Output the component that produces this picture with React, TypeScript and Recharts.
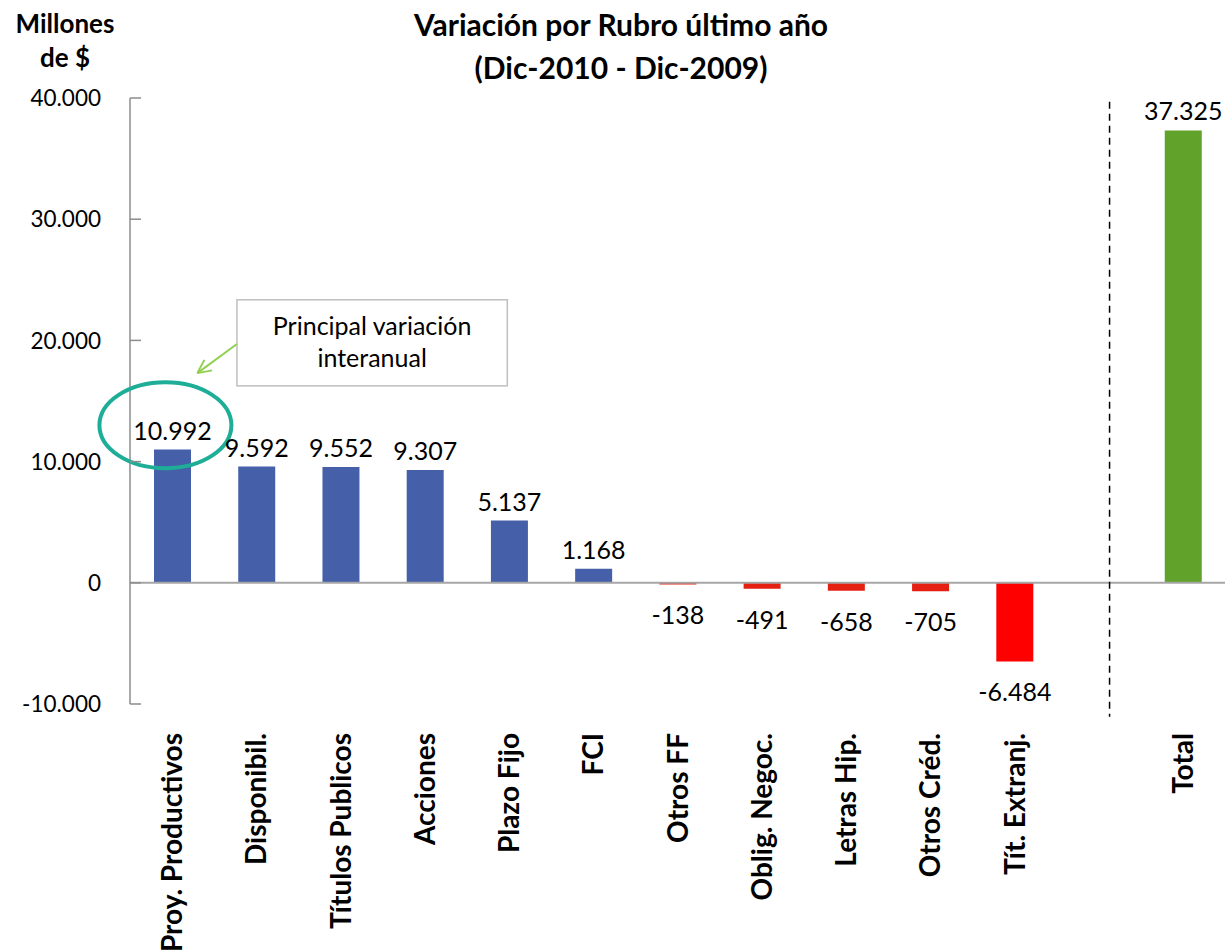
import React from "react";
import { BarChart, Bar, XAxis, YAxis, Cell, LabelList, ReferenceLine, ReferenceArea, ReferenceDot } from "recharts";

// rubros, in the order of the original chart (the empty one is the gap before Total)
const categories = [
  "Proy. Productivos",
  "Disponibil.",
  "Títulos Publicos",
  "Acciones",
  "Plazo Fijo",
  "FCI",
  "Otros FF",
  "Oblig. Negoc.",
  "Letras Hip.",
  "Otros Créd.",
  "Tít. Extranj.",
  "",
  "Total",
];
const variation = [10992, 9592, 9552, 9307, 5137, 1168, -138, -491, -658, -705, -6484, null, 37325];
const yTicks = [-10000, 0, 10000, 20000, 30000, 40000];

const BLUE = "#4560a9";
const RED = "#e52012";
const barColors = [BLUE, BLUE, BLUE, BLUE, BLUE, BLUE, RED, RED, RED, RED, "#ff0000", "none", "#60a22a"];

const data = categories.map((name, i) => ({ name, value: variation[i] }));

// annotations live on a hidden numeric x axis spanning the plot width (0..12)
const NOTE_X = 0.388;
const NOTE_Y = 13000;
const BOX = { x1: 1.172, x2: 4.135, y1: 16250, y2: 23350 };
const ARROW = [
  { x: 1.172, y: 19700 },
  { x: 0.738, y: 17300 },
];
const DIVIDER_X = 10.735;

// thousands with dots, like the original
const fmt = (v: number) => (v < 0 ? "-" : "") + String(Math.abs(v)).replace(/\B(?=(\d{3})+(?!\d))/g, ".");

const ValueLabel = (props: any) => {
  const { x, y, width, height, value } = props;
  if (value == null) return null;
  const top = Math.min(Number(y), Number(y) + Number(height));
  const bottom = Math.max(Number(y), Number(y) + Number(height));
  const cx = Number(x) + Number(width) / 2;
  return (
    <text x={cx} y={value >= 0 ? top - 10 : bottom + 40} textAnchor="middle" fontSize={25} fill="#000">
      {fmt(value)}
    </text>
  );
};

const YTick = ({ x, y, payload }: any) => (
  <g>
    <line x1={x} x2={x + 11} y1={y} y2={y} stroke="#8c8c8c" strokeWidth={1.5} />
    <text x={x - 29} y={y} dy="0.36em" textAnchor="end" fontSize={22.5} fill="#000">
      {fmt(payload.value)}
    </text>
  </g>
);

const XTick = ({ x, y, payload }: any) => (
  <text
    transform={`translate(${x},${y + 29}) rotate(-90)`}
    textAnchor="end"
    dy="0.36em"
    fontSize={28}
    fontWeight="bold"
    fill="#000"
  >
    {payload.value}
  </text>
);

const Arrow = (p: any) => {
  const { x1, y1, x2, y2 } = p;
  const a = Math.atan2(y2 - y1, x2 - x1);
  const h = 15;
  const s = 0.45;
  return (
    <g stroke="#92d050" strokeWidth={2} fill="none">
      <line x1={x1} y1={y1} x2={x2} y2={y2} />
      <line x1={x2} y1={y2} x2={x2 - h * Math.cos(a - s)} y2={y2 - h * Math.sin(a - s)} />
      <line x1={x2} y1={y2} x2={x2 - h * Math.cos(a + s)} y2={y2 - h * Math.sin(a + s)} />
    </g>
  );
};

const NoteBox = (p: any) => {
  const { x, y, width, height } = p;
  return (
    <g>
      <rect x={x} y={y} width={width} height={height} fill="#fff" stroke="#bfbfbf" strokeWidth={1.5} />
      <text x={x + width / 2} y={y + 35} textAnchor="middle" fontSize={25} fill="#000">
        Principal variación
      </text>
      <text x={x + width / 2} y={y + 67} textAnchor="middle" fontSize={25} fill="#000">
        interanual
      </text>
    </g>
  );
};

export default function App() {
  return (
    <div style={{ position: "absolute", left: 0, top: 0, width: 1229, height: 951, fontFamily: "Lato", background: "#fff" }}>
      <div
        style={{
          position: "absolute",
          left: 321,
          top: 3,
          width: 600,
          textAlign: "center",
          fontSize: 30,
          fontWeight: "bold",
          lineHeight: "43px",
        }}
      >
        Variación por Rubro último año
        <br />
        (Dic-2010 - Dic-2009)
      </div>
      <div
        style={{
          position: "absolute",
          left: 0,
          top: 6,
          width: 130,
          textAlign: "center",
          fontSize: 26,
          fontWeight: "bold",
          lineHeight: "34px",
        }}
      >
        Millones
        <br />
        de $
      </div>
      <BarChart
        width={1229}
        height={951}
        data={data}
        margin={{ top: 98, right: 4, bottom: 0, left: 30 }}
        style={{ fontFamily: "Lato" }}
      >
        <XAxis
          dataKey="name"
          height={247}
          axisLine={false}
          tickLine={false}
          tickSize={0}
          tickMargin={0}
          interval={0}
          tick={<XTick />}
        />
        <XAxis xAxisId="n" type="number" domain={[0, 12]} hide allowDataOverflow />
        <YAxis
          width={100}
          domain={[-10000, 40000]}
          ticks={yTicks}
          interval={0}
          axisLine={{ stroke: "#8c8c8c", strokeWidth: 1.5 }}
          tickLine={false}
          tickSize={0}
          tickMargin={0}
          tick={<YTick />}
        />
        <Bar dataKey="value" barSize={37} isAnimationActive={false}>
          {data.map((d, i) => (
            <Cell key={d.name + i} fill={barColors[i]} />
          ))}
          <LabelList dataKey="value" content={ValueLabel} />
        </Bar>
        <ReferenceLine y={0} stroke="#a6a6a6" strokeWidth={2} />
        <ReferenceLine
          xAxisId="n"
          segment={[
            { x: DIVIDER_X, y: 39700 },
            { x: DIVIDER_X, y: -11050 },
          ]}
          stroke="#000"
          strokeWidth={1.5}
          strokeDasharray="7 5"
          ifOverflow="visible"
        />
        <ReferenceArea xAxisId="n" x1={BOX.x1} x2={BOX.x2} y1={BOX.y1} y2={BOX.y2} shape={NoteBox} />
        <ReferenceLine xAxisId="n" segment={ARROW} shape={Arrow} />
        <ReferenceDot
          xAxisId="n"
          x={NOTE_X}
          y={NOTE_Y}
          shape={(p: any) => <ellipse cx={p.cx} cy={p.cy} rx={66} ry={43} fill="none" stroke="#1eae98" strokeWidth={4} />}
        />
      </BarChart>
    </div>
  );
}
